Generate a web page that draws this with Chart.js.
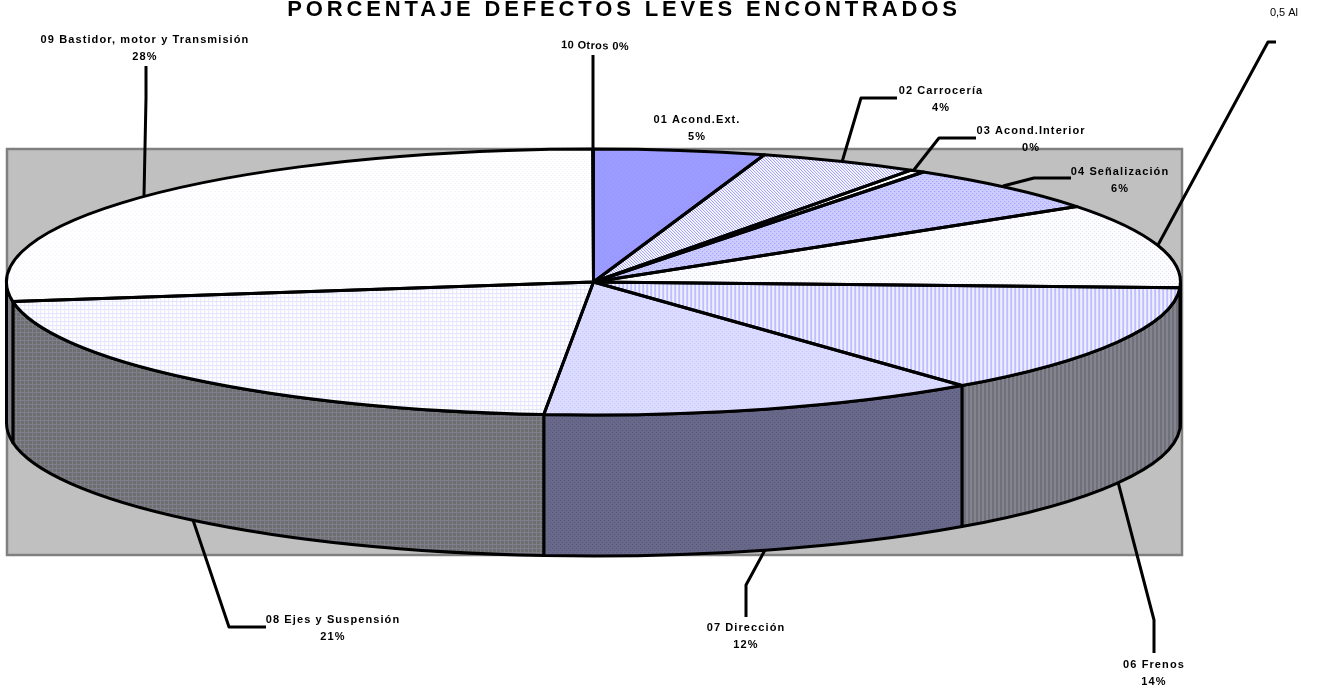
<!DOCTYPE html>
<html>
<head>
  <meta charset="utf-8">
  <title>Porcentaje defectos leves encontrados</title>
  <script src="https://cdn.jsdelivr.net/npm/chart.js@4"></script>
  <style>
    html, body { margin: 0; padding: 0; background: #fff; }
    canvas { display: block; }
  </style>
</head>
<body>
  <canvas id="grafico" width="1320" height="691"></canvas>

  <script>
    const titulo = 'PORCENTAJE DEFECTOS LEVES ENCONTRADOS';
    const categorias = ['01 Acond.Ext.', '02 Carrocería', '03 Acond.Interior', '04 Señalización', '0,5 Al',
      '06 Frenos', '07 Dirección', '08 Ejes y Suspensión', '09 Bastidor, motor y Transmisión', '10 Otros'];
    const valores = [4.7, 4.4, 0.4, 5.9, 10.3, 13.5, 12.15, 21.3, 27.33, 0.02];
    const porcentajes = ['5%', '4%', '0%', '6%', '', '14%', '12%', '21%', '28%', '0%'];

    // geometria de la tarta en perspectiva
    const cx = 593.5, cy = 282, rx = 587, ry = 133, fondo = 141;
    const grosor = 3;

    // x, y de la etiqueta y polilinea de la guia
    const etiquetas = [
      { x: 697, y: 120 },
      { x: 941, y: 91, guia: [[897, 98], [861, 98], [842, 162]] },
      { x: 1031, y: 131, guia: [[976, 138], [939, 138], [913, 171]] },
      { x: 1120, y: 172, guia: [[1071, 178], [1034, 178], [1003, 186]] },
      { x: 1284, y: 13, guia: [[1276, 42], [1268, 42], [1158, 245]], normal: true },
      { x: 1154, y: 665, guia: [[1154, 653], [1154, 620], [1118, 482]] },
      { x: 746, y: 628, guia: [[746, 617], [746, 585], [765, 550]] },
      { x: 333, y: 620, guia: [[266, 627], [229, 627], [193, 520]] },
      { x: 145, y: 40, guia: [[146, 66], [146, 98], [144, 196]] },
      { x: 595, y: 46, guia: [[593, 55], [593, 150]], inclinada: true }
    ];

    function trama(w, h, fondoColor, color, celdas) {
      const c = document.createElement('canvas');
      c.width = w; c.height = h;
      const g = c.getContext('2d');
      g.fillStyle = fondoColor;
      g.fillRect(0, 0, w, h);
      g.fillStyle = color;
      celdas.forEach(p => g.fillRect(p[0], p[1], p[2] || 1, p[3] || 1));
      return g.createPattern(c, 'repeat');
    }

    const puntos = [[0, 0], [2, 2]];
    const rayas = [[2, 0, 2, 4]];
    const rejilla = [[0, 0, 4, 1], [0, 0, 1, 4]];
    const damero = [[0, 0], [1, 1], [2, 2]];

    const tramasTapa = [
      trama(4, 4, '#9999ff', '#a6a6ff', puntos),
      trama(3, 3, '#ffffff', '#9090ff', damero),
      trama(4, 4, '#ffffff', '#ffffff', puntos),
      trama(4, 4, '#ccccff', '#9999ff', puntos),
      trama(4, 4, '#ffffff', '#d8d8ff', puntos),
      trama(4, 4, '#f0f0ff', '#c0c0ff', rayas),
      trama(4, 4, '#dcdcff', '#c4c4ff', puntos),
      trama(4, 4, '#ffffff', '#e4e4ff', rejilla),
      trama(4, 4, '#ffffff', '#f0f0ff', puntos),
      trama(4, 4, '#ffffff', '#f0f0ff', puntos)
    ];
    const tramasLado = [
      '#808090', '#808090', '#808090', '#808090', '#808090',
      trama(4, 4, '#70707c', '#84848c', rayas),
      trama(4, 4, '#68688a', '#5a5a78', puntos),
      trama(4, 4, '#6e6e6e', '#7e7e8e', rejilla),
      '#7f7f88',
      '#808090'
    ];

    function arcos(chart) {
      return chart.getDatasetMeta(0).data;
    }

    // fondo gris y pared lateral, debajo de la tapa
    const pastel3d = {
      id: 'pastel3d',
      beforeDraw(chart) {
        const ctx = chart.ctx;
        ctx.fillStyle = '#ffffff';
        ctx.fillRect(0, 0, chart.width, chart.height);
        ctx.fillStyle = '#c0c0c0';
        ctx.strokeStyle = '#808080';
        ctx.lineWidth = 2.5;
        ctx.fillRect(7, 149, 1175, 406);
        ctx.strokeRect(7, 149, 1175, 406);
      },
      beforeDatasetsDraw(chart) {
        const ctx = chart.ctx;
        const a = arcos(chart);
        ctx.lineWidth = grosor;
        ctx.strokeStyle = '#000';
        ctx.lineJoin = 'round';
        a.forEach((el, i) => {
          const ini = Math.max(el.startAngle, 0);
          const fin = Math.min(el.endAngle, Math.PI);
          if (fin <= ini) return;
          ctx.beginPath();
          ctx.ellipse(cx, cy, rx, ry, 0, ini, fin);
          ctx.ellipse(cx, cy + fondo, rx, ry, 0, fin, ini, true);
          ctx.closePath();
          ctx.fillStyle = tramasLado[i];
          ctx.fill();
          ctx.stroke();
        });
        // la tapa se dibuja con la propia libreria, aplastada a elipse
        const R = a[0].outerRadius, sx = rx / R, sy = ry / R;
        const inversa = new DOMMatrix().scale(1 / sx, 1 / sy);
        tramasTapa.forEach(t => t.setTransform(inversa));
        ctx.save();
        ctx.translate(cx, cy);
        ctx.scale(sx, sy);
        ctx.translate(-a[0].x, -a[0].y);
      },
      afterDatasetsDraw(chart) {
        const ctx = chart.ctx;
        ctx.restore();
        ctx.lineWidth = grosor;
        ctx.strokeStyle = '#000';
        ctx.lineJoin = 'round';
        arcos(chart).forEach(el => {
          ctx.beginPath();
          ctx.moveTo(cx, cy);
          ctx.ellipse(cx, cy, rx, ry, 0, el.startAngle, el.endAngle);
          ctx.closePath();
          ctx.stroke();
        });
        dibujarEtiquetas(ctx);
      }
    };

    function dibujarEtiquetas(ctx) {
      ctx.fillStyle = '#000';
      ctx.textAlign = 'center';
      ctx.textBaseline = 'middle';

      ctx.font = 'bold 22px "Liberation Sans"';
      ctx.letterSpacing = '3.85px';
      ctx.fillText(titulo, 624, 10);

      ctx.lineWidth = grosor;
      ctx.strokeStyle = '#000';
      etiquetas.forEach((e, i) => {
        if (e.guia) {
          ctx.beginPath();
          e.guia.forEach((p, k) => k ? ctx.lineTo(p[0], p[1]) : ctx.moveTo(p[0], p[1]));
          ctx.stroke();
        }
        if (e.normal) {
          ctx.font = '11px "Liberation Sans"';
          ctx.letterSpacing = '0px';
          ctx.fillText(categorias[i], e.x, e.y);
        } else if (e.inclinada) {
          ctx.font = 'bold 11px "Liberation Sans"';
          ctx.letterSpacing = '0.4px';
          ctx.save();
          ctx.translate(e.x, e.y);
          ctx.rotate(0.03);
          ctx.fillText(categorias[i] + ' ' + porcentajes[i], 0, 0);
          ctx.restore();
        } else {
          ctx.font = 'bold 11px "Liberation Sans"';
          ctx.letterSpacing = '1.1px';
          ctx.fillText(categorias[i], e.x, e.y);
          ctx.fillText(porcentajes[i], e.x, e.y + 17);
        }
      });
      ctx.letterSpacing = '0px';
    }

    new Chart(document.getElementById('grafico'), {
      type: 'pie',
      data: {
        labels: categorias,
        datasets: [{
          data: valores,
          backgroundColor: tramasTapa,
          borderWidth: 0,
          clip: false
        }]
      },
      options: {
        responsive: false,
        animation: false,
        events: [],
        plugins: { legend: { display: false }, tooltip: { enabled: false } }
      },
      plugins: [pastel3d]
    });
  </script>
</body>
</html>
